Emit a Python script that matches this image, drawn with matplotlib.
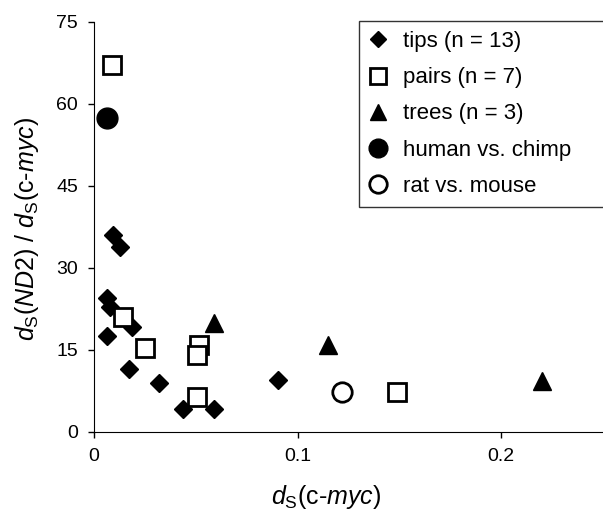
import matplotlib
matplotlib.use('Agg')
import matplotlib.pyplot as plt

plt.rcParams['font.family'] = ['Liberation Sans', 'DejaVu Sans']
plt.rcParams['mathtext.fontset'] = 'custom'
plt.rcParams['mathtext.rm'] = 'Liberation Sans'
plt.rcParams['mathtext.it'] = 'Liberation Sans:italic'

# dS(c-myc) and dS(ND2)/dS(c-myc)
tips_x = [0.0094, 0.0127, 0.0064, 0.0079, 0.0187, 0.0064, 0.0173, 0.032, 0.0436, 0.059, 0.0905]
tips_y = [36.0, 33.8, 24.5, 22.9, 19.2, 17.5, 11.5, 9.0, 4.2, 4.2, 9.5]

pairs_x = [0.0090, 0.0142, 0.025, 0.0516, 0.0507, 0.0505, 0.149]
pairs_y = [67.1, 21.0, 15.4, 15.9, 14.1, 6.4, 7.3]

trees_x = [0.059, 0.115, 0.220]
trees_y = [20.0, 15.9, 9.3]

human_x = [0.0062]
human_y = [57.4]

rat_x = [0.122]
rat_y = [7.3]

fig = plt.figure(figsize=(6.03, 5.12), dpi=100)
ax = fig.add_axes([94/603, 80/512, 509/603, 410/512])

ax.plot(tips_x, tips_y, 'D', color='black', ms=9, ls='none', label='tips (n = 13)')
ax.plot(pairs_x, pairs_y, 's', mfc='white', mec='black', mew=2, ms=12.5, ls='none', label='pairs (n = 7)')
ax.plot(trees_x, trees_y, '^', color='black', ms=12.5, ls='none', label='trees (n = 3)')
ax.plot(human_x, human_y, 'o', color='black', ms=15, ls='none', label='human vs. chimp')
ax.plot(rat_x, rat_y, 'o', mfc='white', mec='black', mew=2, ms=14, ls='none', label='rat vs. mouse')

ax.set_xlim(0, 0.25)
ax.set_ylim(0, 75)
ax.set_xticks([0, 0.1, 0.2])
ax.set_xticklabels(['0', '0.1', '0.2'])
ax.set_yticks([0, 15, 30, 45, 60, 75])
ax.tick_params(direction='out', length=4.5, width=1, labelsize=14, pad=7)

ax.spines['top'].set_visible(False)
ax.spines['right'].set_visible(False)

ax.set_xlabel(r'$d_{\mathrm{S}}$(c-$myc$)', size=18)
ax.set_ylabel(r'$d_{\mathrm{S}}$($ND2$) / $d_{\mathrm{S}}$(c-$myc$)', size=18)
ax.xaxis.set_label_coords(0.456, -0.125)
ax.yaxis.set_label_coords(-0.105, 0.495)

# legend box runs off the right edge, as in the original
leg = ax.legend(loc='upper left', bbox_to_anchor=(0.52, 1.002, 0.52, 0), mode='expand',
                borderaxespad=0, fontsize=16, frameon=True, fancybox=False, edgecolor='black',
                borderpad=0.45, handletextpad=0.7, labelspacing=0.68, markerscale=0.9,
                handlelength=0.85)
leg.get_frame().set_linewidth(1)

plt.savefig('out.png', dpi=100)
